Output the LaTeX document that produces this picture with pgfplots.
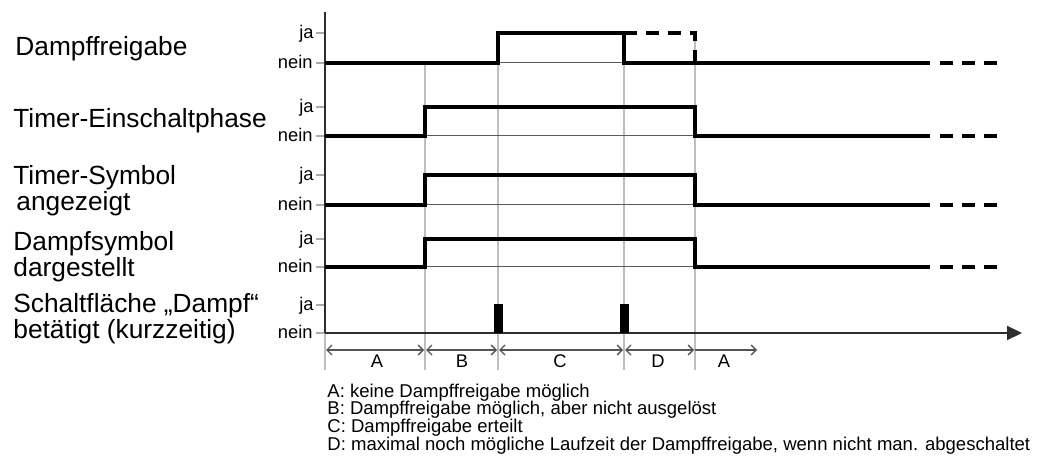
\documentclass[border=0pt]{standalone}
\usepackage{fontspec}
\setmainfont{Liberation Sans}
\usepackage{pgfplots}
\pgfplotsset{compat=1.18}
\usetikzlibrary{arrows.meta}
\definecolor{gridc}{RGB}{190,190,190}
\definecolor{tickc}{RGB}{170,170,170}
\definecolor{axc}{RGB}{45,45,45}
\definecolor{basec}{RGB}{90,90,90}
\definecolor{intc}{RGB}{85,85,85}
\begin{document}
\begin{tikzpicture}
\begin{axis}[
  x=0.5bp, y=0.5bp, xmin=0, xmax=1045, ymin=0, ymax=461, y dir=reverse,
  hide axis, clip=false, scale only axis,
]
% bounding box
\addplot[draw=none] coordinates {(0,0) (1045,461)};
% vertical grid lines
\addplot[gridc, line width=0.6bp] coordinates {(425,63) (425,370)};
\addplot[gridc, line width=0.6bp] coordinates {(498,63) (498,370)};
\addplot[gridc, line width=0.6bp] coordinates {(624,63) (624,370)};
\addplot[gridc, line width=0.6bp] coordinates {(695,33) (695,370)};
\addplot[gridc, line width=0.6bp] coordinates {(325,333) (325,370)};
% thin nein baselines
\addplot[basec, line width=0.5bp] coordinates {(325,63) (930,63)};
\addplot[basec, line width=0.5bp] coordinates {(325,136) (930,136)};
\addplot[basec, line width=0.5bp] coordinates {(325,205) (930,205)};
\addplot[basec, line width=0.5bp] coordinates {(325,267) (930,267)};
% tick marks
\addplot[tickc, line width=0.6bp] coordinates {(316,33) (325,33)};
\addplot[tickc, line width=0.6bp] coordinates {(316,63) (325,63)};
\addplot[tickc, line width=0.6bp] coordinates {(316,107) (325,107)};
\addplot[tickc, line width=0.6bp] coordinates {(316,136) (325,136)};
\addplot[tickc, line width=0.6bp] coordinates {(316,175) (325,175)};
\addplot[tickc, line width=0.6bp] coordinates {(316,205) (325,205)};
\addplot[tickc, line width=0.6bp] coordinates {(316,239) (325,239)};
\addplot[tickc, line width=0.6bp] coordinates {(316,267) (325,267)};
\addplot[tickc, line width=0.6bp] coordinates {(316,305) (325,305)};
\addplot[tickc, line width=0.6bp] coordinates {(316,333) (325,333)};
% y axis and time axis
\addplot[axc, line width=1bp] coordinates {(325,12) (325,333)};
\addplot[axc, line width=1bp, -{Triangle[length=7.5bp,width=7bp]}] coordinates {(325,333) (1022,333)};
% signals
\addplot[black, line width=1.6bp, line join=miter] coordinates {(325,63) (498,63) (498,33) (624,33) (624,63) (930,63)};
\addplot[black, line width=1.6bp, dash pattern=on 6.5bp off 4.5bp] coordinates {(624,33) (695,33) (695,63)};
\addplot[black, line width=1.6bp, dash pattern=on 6.5bp off 4.5bp] coordinates {(940,63) (997,63)};
\addplot[black, line width=1.6bp, line join=miter] coordinates {(325,136) (425,136) (425,107) (695,107) (695,136) (930,136)};
\addplot[black, line width=1.6bp, dash pattern=on 6.5bp off 4.5bp] coordinates {(940,136) (997,136)};
\addplot[black, line width=1.6bp, line join=miter] coordinates {(325,205) (425,205) (425,175) (695,175) (695,205) (930,205)};
\addplot[black, line width=1.6bp, dash pattern=on 6.5bp off 4.5bp] coordinates {(940,205) (997,205)};
\addplot[black, line width=1.6bp, line join=miter] coordinates {(325,267) (425,267) (425,239) (695,239) (695,267) (930,267)};
\addplot[black, line width=1.6bp, dash pattern=on 6.5bp off 4.5bp] coordinates {(940,267) (997,267)};
% pulses
\addplot[fill=black, draw=none] coordinates {(494,333) (494,304) (503,304) (503,333)} --cycle;
\addplot[fill=black, draw=none] coordinates {(620,333) (620,304) (629,304) (629,333)} --cycle;
% interval arrows
\addplot[intc, line width=0.7bp, {Straight Barb[length=2.5bp,width=5bp]}-{Straight Barb[length=2.5bp,width=5bp]}] coordinates {(326,350) (424,350)};
\addplot[intc, line width=0.7bp, {Straight Barb[length=2.5bp,width=5bp]}-{Straight Barb[length=2.5bp,width=5bp]}] coordinates {(426,350) (497,350)};
\addplot[intc, line width=0.7bp, {Straight Barb[length=2.5bp,width=5bp]}-{Straight Barb[length=2.5bp,width=5bp]}] coordinates {(499,350) (623,350)};
\addplot[intc, line width=0.7bp, {Straight Barb[length=2.5bp,width=5bp]}-{Straight Barb[length=2.5bp,width=5bp]}] coordinates {(625,350) (694,350)};
\addplot[intc, line width=0.7bp, -{Straight Barb[length=2.5bp,width=5bp]}] coordinates {(695,350) (757,350)};
% interval labels
\node[anchor=base, font=\fontsize{9.2}{11}\selectfont, inner sep=0pt] at (axis cs:377,367) {A};
\node[anchor=base, font=\fontsize{9.2}{11}\selectfont, inner sep=0pt] at (axis cs:462,367) {B};
\node[anchor=base, font=\fontsize{9.2}{11}\selectfont, inner sep=0pt] at (axis cs:560,367) {C};
\node[anchor=base, font=\fontsize{9.2}{11}\selectfont, inner sep=0pt] at (axis cs:658,367) {D};
\node[anchor=base, font=\fontsize{9.2}{11}\selectfont, inner sep=0pt] at (axis cs:724,367) {A};
% tick labels
\node[anchor=mid east, font=\fontsize{9.2}{11}\selectfont, inner sep=0pt] at (axis cs:314,33) {ja};
\node[anchor=mid east, font=\fontsize{9.2}{11}\selectfont, inner sep=0pt] at (axis cs:313,63) {nein};
\node[anchor=mid east, font=\fontsize{9.2}{11}\selectfont, inner sep=0pt] at (axis cs:314,107) {ja};
\node[anchor=mid east, font=\fontsize{9.2}{11}\selectfont, inner sep=0pt] at (axis cs:313,136) {nein};
\node[anchor=mid east, font=\fontsize{9.2}{11}\selectfont, inner sep=0pt] at (axis cs:314,175) {ja};
\node[anchor=mid east, font=\fontsize{9.2}{11}\selectfont, inner sep=0pt] at (axis cs:313,205) {nein};
\node[anchor=mid east, font=\fontsize{9.2}{11}\selectfont, inner sep=0pt] at (axis cs:314,239) {ja};
\node[anchor=mid east, font=\fontsize{9.2}{11}\selectfont, inner sep=0pt] at (axis cs:313,267) {nein};
\node[anchor=mid east, font=\fontsize{9.2}{11}\selectfont, inner sep=0pt] at (axis cs:314,305) {ja};
\node[anchor=mid east, font=\fontsize{9.2}{11}\selectfont, inner sep=0pt] at (axis cs:313,333) {nein};
% row labels
\node[anchor=base west, font=\fontsize{13.2}{15}\selectfont, inner sep=0pt] at (axis cs:15,56) {Dampffreigabe};
\node[anchor=base west, font=\fontsize{13.2}{15}\selectfont, inner sep=0pt] at (axis cs:13,128) {Timer-Einschaltphase};
\node[anchor=north west, font=\fontsize{13.2}{10}\selectfont, inner sep=0pt, align=left] at (axis cs:13,165) {Timer-Symbol\\\hspace*{1.5bp}angezeigt};
\node[anchor=north west, font=\fontsize{13.2}{13}\selectfont, inner sep=0pt, align=left] at (axis cs:13,231) {Dampfsymbol\\dargestellt};
\node[anchor=north west, font=\fontsize{13.2}{10.5}\selectfont, inner sep=0pt, align=left] at (axis cs:13,293) {Schaltfläche „Dampf“\\betätigt (kurzzeitig)};
% explanation
\node[anchor=base west, font=\fontsize{9.3}{11}\selectfont, inner sep=0pt] at (axis cs:327,397) {A: keine Dampffreigabe möglich};
\node[anchor=base west, font=\fontsize{9.3}{11}\selectfont, inner sep=0pt] at (axis cs:327,414.5) {B: Dampffreigabe möglich, aber nicht ausgelöst};
\node[anchor=base west, font=\fontsize{9.3}{11}\selectfont, inner sep=0pt] at (axis cs:327,432) {C: Dampffreigabe erteilt};
\node[anchor=base west, font=\fontsize{9.3}{11}\selectfont, inner sep=0pt] at (axis cs:327,450) {D: maximal noch mögliche Laufzeit der Dampffreigabe, wenn nicht man. abgeschaltet};
\end{axis}
\end{tikzpicture}
\end{document}
